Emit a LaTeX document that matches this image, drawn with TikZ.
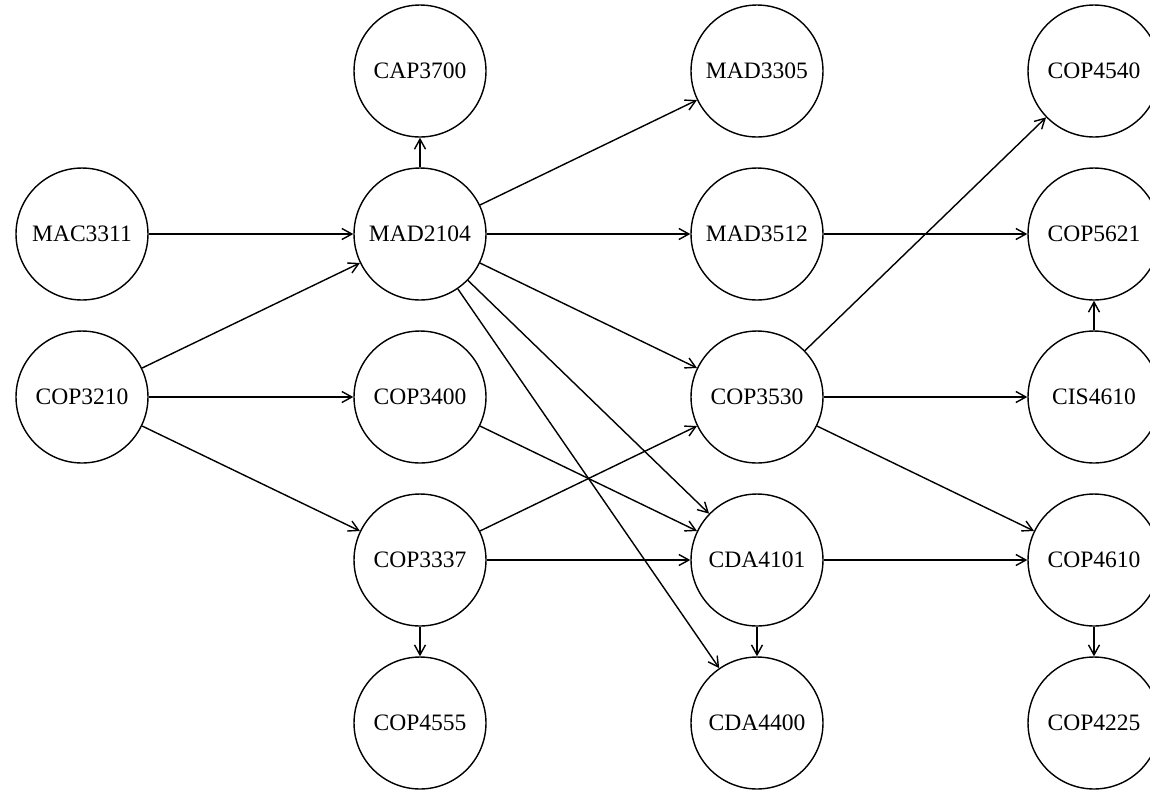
\documentclass[tikz,border=0pt]{standalone}
\usepackage{fontspec}
\setmainfont{Liberation Serif}
\usepackage{tikz}
\usetikzlibrary{arrows.meta}
\tikzset{
  course/.style={draw, circle, line width=0.8pt, minimum size=2.64cm, inner sep=0pt,
    font=\fontsize{13.4}{16}\selectfont},
  prereq/.style={-{Straight Barb[length=2mm,width=2.2mm]}, line width=0.8pt}
}

\begin{document}
\begin{tikzpicture}[x=0.02cm,y=-0.02cm]
  \useasboundingbox (0,0) rectangle (1150,789);
  \clip (0,0) rectangle (1150,789);
  % course nodes, by column
  \foreach \name/\x/\y in {MAC3311/82/234, COP3210/82/397,
      CAP3700/420/71, MAD2104/420/234, COP3400/420/397, COP3337/420/560, COP4555/420/723,
      MAD3305/757/71, MAD3512/757/234, COP3530/757/397, CDA4101/757/560, CDA4400/757/723,
      COP4540/1094/71, COP5621/1094/234, CIS4610/1094/397, COP4610/1094/560, COP4225/1094/723}
    \node[course] (\name) at (\x,\y) {\name};
  % prerequisites
  \foreach \from/\to in {MAC3311/MAD2104, COP3210/MAD2104, COP3210/COP3400, COP3210/COP3337,
      MAD2104/CAP3700, MAD2104/MAD3305, MAD2104/MAD3512, MAD2104/COP3530,
      MAD2104/CDA4101, MAD2104/CDA4400, COP3400/CDA4101,
      COP3337/COP3530, COP3337/CDA4101, COP3337/COP4555,
      CDA4101/CDA4400, CDA4101/COP4610, MAD3512/COP5621,
      COP3530/COP4540, COP3530/CIS4610, COP3530/COP4610,
      CIS4610/COP5621, COP4610/COP4225}
    \draw[prereq] (\from) -- (\to);
\end{tikzpicture}
\end{document}
